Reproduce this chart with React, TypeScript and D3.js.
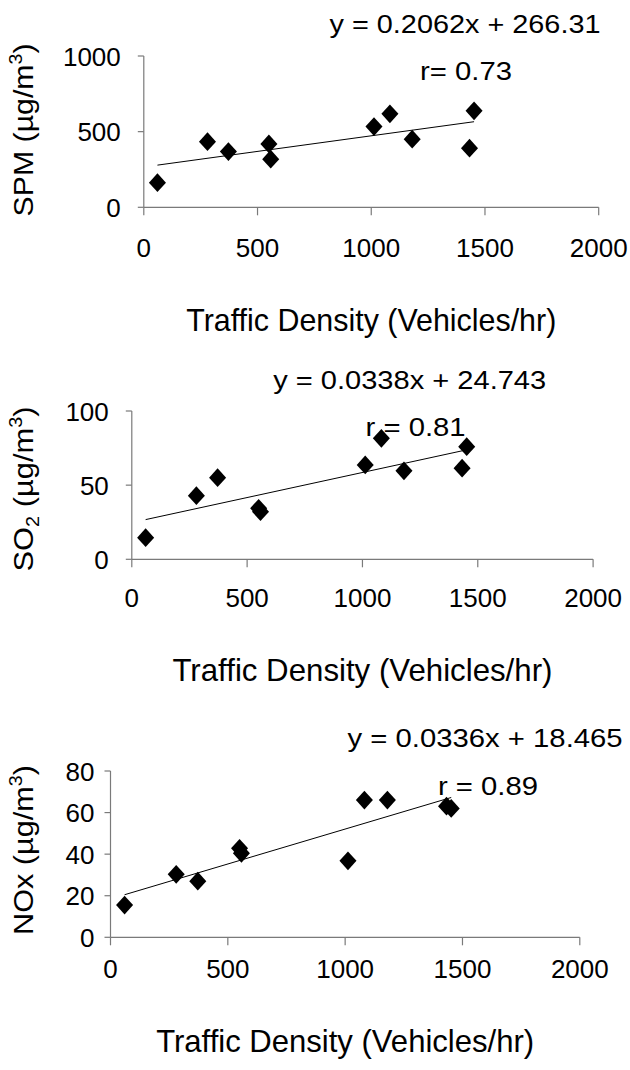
import React from 'react';
import * as d3 from 'd3';

// ---- data ----
const trafficDensity = [60, 280, 372, 550, 558, 1012, 1082, 1180, 1432, 1452];
const spmValues = [163, 434, 368, 419, 318, 534, 618, 450, 391, 638];
const so2Values = [14.6, 42.9, 55, 34.4, 32.1, 63.6, 81.6, 59.7, 61.4, 75.9];
const noxValues = [15.5, 30.3, 27, 42.8, 40.4, 36.8, 66, 66, 63.1, 62];
const xTicks = [0, 500, 1000, 1500, 2000];
const spmTicks = [0, 500, 1000];
const so2Ticks = [0, 50, 100];
const noxTicks = [0, 20, 40, 60, 80];
const slopes = [0.2062, 0.0338, 0.0336];
const intercepts = [266.31, 24.743, 18.465];
const equationLabels = ['y = 0.2062x + 266.31', 'y = 0.0338x + 24.743', 'y = 0.0336x + 18.465'];
const rLabels = ['r= 0.73', 'r = 0.81', 'r = 0.89'];
const xTitle = 'Traffic Density (Vehicles/hr)';

const FONT = "'Liberation Sans', Arial, sans-serif";

interface PanelLayout {
  left: number; right: number; top: number; bottom: number;
  yMax: number; yLabelGap: number; xLabelOffset: number;
  titleBaseline: number; titleWidth: number;
  eqX: number; eqBaseline: number; eqWidth: number;
  rX: number; rBaseline: number; rWidth: number;
  yTitleCenter: number; yTitleWidth: number;
}

const layouts: PanelLayout[] = [
  { left: 143.8, right: 598.7, top: 56, bottom: 207.3, yMax: 1000, yLabelGap: 23, xLabelOffset: 49.4,
    titleBaseline: 330.7, titleWidth: 370, eqX: 329.5, eqBaseline: 33.3, eqWidth: 271,
    rX: 420, rBaseline: 80, rWidth: 92, yTitleCenter: 130, yTitleWidth: 173 },
  { left: 131.8, right: 593.1, top: 411, bottom: 559.3, yMax: 100, yLabelGap: 23, xLabelOffset: 47.4,
    titleBaseline: 680.7, titleWidth: 380, eqX: 273.2, eqBaseline: 389.3, eqWidth: 273,
    rX: 365.6, rBaseline: 436, rWidth: 100, yTitleCenter: 489, yTitleWidth: 165 },
  { left: 110.5, right: 579.8, top: 771, bottom: 937.3, yMax: 80, yLabelGap: 16, xLabelOffset: 41,
    titleBaseline: 1051.7, titleWidth: 378, eqX: 347.6, eqBaseline: 746.7, eqWidth: 275,
    rX: 438, rBaseline: 795, rWidth: 100, yTitleCenter: 850, yTitleWidth: 170 },
];

const seriesList = [spmValues, so2Values, noxValues];
const yTickList = [spmTicks, so2Ticks, noxTicks];

function YTitle({ idx, x, cy, w }: { idx: number; x: number; cy: number; w: number }) {
  const common = { fontFamily: FONT, fontSize: 28, fill: '#000', textLength: w, lengthAdjust: 'spacingAndGlyphs' } as const;
  const tr = `translate(${x},${cy}) rotate(-90)`;
  if (idx === 0) {
    return (
      <text transform={tr} textAnchor="middle" {...common}>
        SPM (µg/m<tspan fontSize={18} dy={-11}>3</tspan><tspan dy={11}>)</tspan>
      </text>
    );
  }
  if (idx === 1) {
    return (
      <text transform={tr} textAnchor="middle" {...common}>
        SO<tspan fontSize={18} dy={6}>2</tspan><tspan dy={-6}> (µg/m</tspan><tspan fontSize={18} dy={-11}>3</tspan><tspan dy={11}>)</tspan>
      </text>
    );
  }
  return (
    <text transform={tr} textAnchor="middle" {...common}>
      NOx (µg/m<tspan fontSize={18} dy={-11}>3</tspan><tspan dy={11}>)</tspan>
    </text>
  );
}

function Panel({ idx }: { idx: number }) {
  const L = layouts[idx];
  const values = seriesList[idx];
  const x = d3.scaleLinear().domain([0, 2000]).range([L.left, L.right]);
  const y = d3.scaleLinear().domain([0, L.yMax]).range([L.bottom, L.top]);
  const xMin = d3.min(trafficDensity) as number;
  const xMax = d3.max(trafficDensity) as number;
  const fit = (v: number) => slopes[idx] * v + intercepts[idx];
  const line = d3.line<number>().x(d => x(d)).y(d => y(fit(d)));
  const diamond = d3.symbol().type(d3.symbolDiamond2).size(185);
  const axisColor = '#7a7a7a';

  return (
    <g>
      {/* axes */}
      <line x1={L.left} x2={L.left} y1={y(L.yMax)} y2={L.bottom} stroke={axisColor} strokeWidth={1.2} />
      <line x1={L.left} x2={L.right} y1={L.bottom} y2={L.bottom} stroke={axisColor} strokeWidth={1.2} />
      {yTickList[idx].map(t => (
        <g key={'yt' + t}>
          <line x1={L.left - 6} x2={L.left} y1={y(t)} y2={y(t)} stroke={axisColor} strokeWidth={1.2} />
          <text x={L.left - L.yLabelGap} y={y(t) + 9.5} textAnchor="end" fontFamily={FONT} fontSize={26} fill="#000">{t}</text>
        </g>
      ))}
      {xTicks.map(t => (
        <g key={'xt' + t}>
          <line x1={x(t)} x2={x(t)} y1={L.bottom} y2={L.bottom + 8} stroke={axisColor} strokeWidth={1.2} />
          <text x={x(t)} y={L.bottom + L.xLabelOffset} textAnchor="middle" fontFamily={FONT} fontSize={26} fill="#000">{t}</text>
        </g>
      ))}
      {/* trend line */}
      <path d={line([xMin, xMax]) || ''} stroke="#000" strokeWidth={1} fill="none" />
      {/* points */}
      {trafficDensity.map((d, i) => (
        <path key={'p' + i} d={diamond() || ''} transform={`translate(${x(d)},${y(values[i])}) scale(1,1.1)`} fill="#000" />
      ))}
      {/* labels */}
      <text x={L.eqX} y={L.eqBaseline} fontFamily={FONT} fontSize={26} textLength={L.eqWidth} lengthAdjust="spacingAndGlyphs" fill="#000">{equationLabels[idx]}</text>
      <text x={L.rX} y={L.rBaseline} fontFamily={FONT} fontSize={26} textLength={L.rWidth} lengthAdjust="spacingAndGlyphs" fill="#000">{rLabels[idx]}</text>
      <text x={(L.left + L.right) / 2} y={L.titleBaseline} textAnchor="middle" fontFamily={FONT} fontSize={32} textLength={L.titleWidth} lengthAdjust="spacingAndGlyphs" fill="#000">{xTitle}</text>
      <YTitle idx={idx} x={33} cy={L.yTitleCenter} w={L.yTitleWidth} />
    </g>
  );
}

export default function App() {
  return (
    <svg width={630} height={1070} style={{ position: 'absolute', left: 0, top: 0, background: '#fff' }}>
      <rect width={630} height={1070} fill="#fff" />
      {[0, 1, 2].map(i => <Panel key={i} idx={i} />)}
    </svg>
  );
}
